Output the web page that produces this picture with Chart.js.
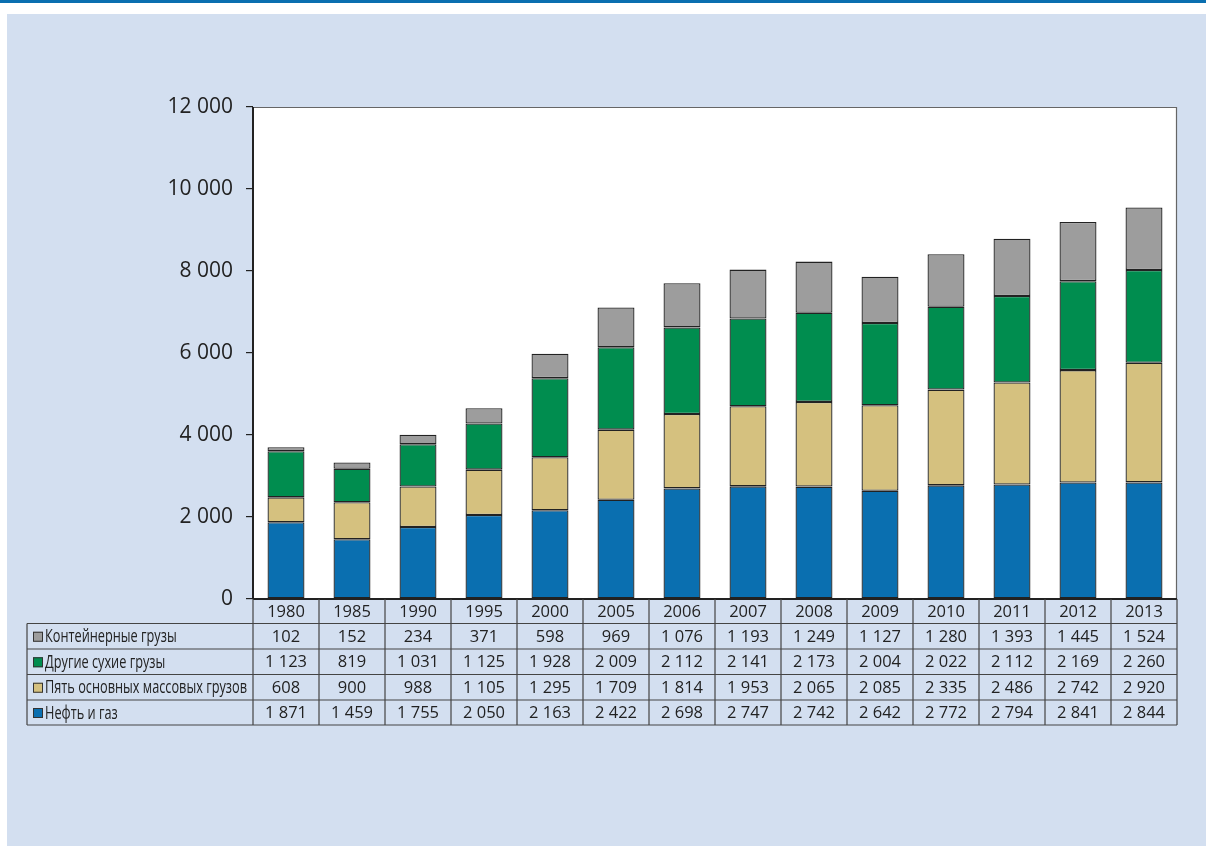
<!DOCTYPE html>
<html><head><meta charset="utf-8">
<script src="https://cdn.jsdelivr.net/npm/chart.js@4"></script>
<style>
html,body{margin:0;padding:0;background:#fff;width:1206px;height:846px;overflow:hidden}
#topbar{position:absolute;left:0;top:0;width:1206px;height:3px;background:#0a6fb0}
#panel{position:absolute;left:7px;top:14px;width:1199px;height:832px;background:#d3dff0}
#wrap{position:absolute;left:0;top:0;width:1206px;height:846px}
</style></head>
<body>
<div id="topbar"></div><div id="panel"></div>
<div id="wrap"><canvas id="c" width="1206" height="846"></canvas></div>
<script>
const years = ['1980','1985','1990','1995','2000','2005','2006','2007','2008','2009','2010','2011','2012','2013'];
const oilGas =    [1871,1459,1755,2050,2163,2422,2698,2747,2742,2642,2772,2794,2841,2844];
const fiveBulk =  [608,900,988,1105,1295,1709,1814,1953,2065,2085,2335,2486,2742,2920];
const otherDry =  [1123,819,1031,1125,1928,2009,2112,2141,2173,2004,2022,2112,2169,2260];
const container = [102,152,234,371,598,969,1076,1193,1249,1127,1280,1393,1445,1524];
const yTicks = [0,2000,4000,6000,8000,10000,12000];

const fmtT = v => String(v).replace(/\B(?=(\d{3})+(?!\d))/g, ' ');

const series = [
  {label:'Нефть и газ', data: oilGas, color:'#0a6fb0'},
  {label:'Пять основных массовых грузов', data: fiveBulk, color:'#d5c17f'},
  {label:'Другие сухие грузы', data: otherDry, color:'#008d4f'},
  {label:'Контейнерные грузы', data: container, color:'#9d9d9d'}
];
const tableOrder = [3,2,1,0];

const bgPlugin = {
  id:'bg',
  beforeDraw(chart){
    const {ctx, chartArea:a} = chart;
    ctx.save();
    ctx.fillStyle = '#fff';
    ctx.fillRect(a.left, a.top, a.right-a.left, a.bottom-a.top);
    ctx.restore();
  },
  afterDraw(chart){
    const {ctx, chartArea:a} = chart;
    const x = chart.scales.x;
    ctx.save();
    ctx.strokeStyle = '#666'; ctx.lineWidth = 1.2;
    ctx.beginPath();
    ctx.moveTo(a.left, a.top+0.5); ctx.lineTo(a.right, a.top+0.5);
    ctx.moveTo(a.right-0.5, a.top); ctx.lineTo(a.right-0.5, a.bottom);
    ctx.stroke();
    ctx.strokeStyle = '#222'; ctx.lineWidth = 2;
    ctx.beginPath();
    ctx.moveTo(a.left, a.top); ctx.lineTo(a.left, a.bottom);
    ctx.moveTo(a.left, a.bottom); ctx.lineTo(a.right, a.bottom);
    ctx.stroke();

    const n = years.length;
    const half = (x.getPixelForValue(1) - x.getPixelForValue(0))/2;
    const colEdges = [];
    for (let i=0;i<=n;i++) colEdges.push(i<n ? x.getPixelForValue(i)-half : x.getPixelForValue(n-1)+half);
    const rowsY = [599, 623.5, 649, 674.5, 700, 725];
    const labelLeft = 27;
    ctx.strokeStyle = '#444'; ctx.lineWidth = 1.2;
    ctx.beginPath();
    colEdges.forEach((ex)=>{ ctx.moveTo(ex, rowsY[0]); ctx.lineTo(ex, rowsY[5]); });
    ctx.moveTo(labelLeft, rowsY[1]); ctx.lineTo(labelLeft, rowsY[5]);
    for (let r=1;r<rowsY.length;r++){
      ctx.moveTo(labelLeft, rowsY[r]); ctx.lineTo(colEdges[n], rowsY[r]);
    }
    ctx.stroke();

    const numFont = '16.5px "Open Sans", "Noto Sans", sans-serif';
    const labFont = '18px "Open Sans", "Noto Sans", sans-serif';
    ctx.fillStyle = '#222';
    ctx.textAlign = 'center'; ctx.textBaseline = 'middle';
    ctx.font = numFont;
    years.forEach((y,i)=> ctx.fillText(y, x.getPixelForValue(i), (rowsY[0]+rowsY[1])/2+1));
    // horizontal condensing factor for legend labels
    ctx.font = labFont;
    const longest = Math.max(...series.map(s=>ctx.measureText(s.label).width));
    const sx = 202 / longest;
    tableOrder.forEach((si, r)=>{
      const s = series[si];
      const cy = (rowsY[r+1]+rowsY[r+2])/2+1;
      ctx.textAlign = 'center';
      ctx.font = numFont;
      ctx.fillStyle = '#222';
      s.data.forEach((v,i)=> ctx.fillText(fmtT(v), x.getPixelForValue(i), cy));
      ctx.fillStyle = s.color;
      ctx.fillRect(33, cy-5.5, 10, 10);
      ctx.strokeStyle = '#333'; ctx.lineWidth = 1;
      ctx.strokeRect(33.5, cy-5, 9, 9);
      ctx.fillStyle = '#222';
      ctx.textAlign = 'left';
      ctx.font = labFont;
      ctx.save();
      ctx.translate(45, cy);
      ctx.scale(sx, 1);
      ctx.fillText(s.label, 0, 0);
      ctx.restore();
    });
    ctx.restore();
  }
};

new Chart(document.getElementById('c'), {
  type:'bar',
  data:{
    labels: years,
    datasets: series.map(s=>({
      label: s.label, data: s.data, backgroundColor: s.color,
      borderColor:'#222', borderWidth:1.3, borderSkipped:false,
      barPercentage:0.56, categoryPercentage:1
    }))
  },
  options:{
    responsive:false, animation:false,
    layout:{padding:{left:0, top:107, right:29, bottom:247}},
    plugins:{legend:{display:false}, tooltip:{enabled:false}},
    scales:{
      x:{stacked:true, display:false},
      y:{stacked:true, min:0, max:12000,
        afterFit(s){ s.width = 253; },
        afterBuildTicks(s){ s.ticks = yTicks.map(v=>({value:v})); },
        border:{display:false},
        grid:{drawOnChartArea:false, drawTicks:true, tickLength:7, color:'#222', lineWidth:1.2},
        ticks:{padding:13, color:'#222', font:{family:'"Open Sans", "Noto Sans", sans-serif', size:21},
          callback:v=>fmtT(v)}
      }
    }
  },
  plugins:[bgPlugin]
});
</script>
</body></html>
